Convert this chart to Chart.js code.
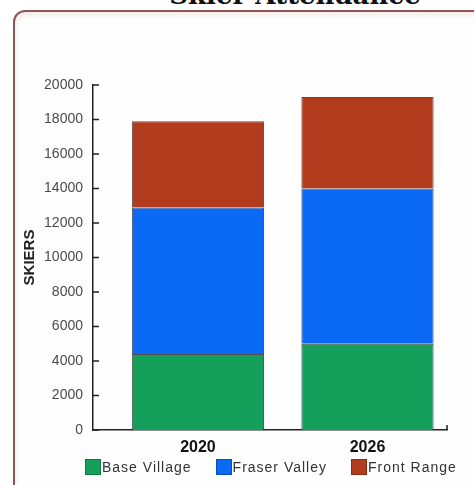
<!DOCTYPE html>
<html>
<head>
<meta charset="utf-8">
<script src="https://cdn.jsdelivr.net/npm/chart.js@4/dist/chart.umd.min.js"></script>
<style>
  html, body { margin: 0; padding: 0; background: #ffffff; overflow: hidden; }
  #wrap { position: relative; width: 474px; height: 485px; overflow: hidden; }
  #frame {
    position: absolute; left: 13px; top: 10px; width: 480px; height: 490px;
    border: 2px solid #8a5656; border-radius: 12px; background: #fdfefd;
    box-shadow: inset 0 3px 5px rgba(210, 140, 140, 0.2);
  }
  #title {
    position: absolute; left: 0; width: 590px; top: -18px; text-align: center;
    font: bold 26px "DejaVu Serif", serif; line-height: 26px; color: #111;
    white-space: nowrap;
  }
  #chart { position: absolute; left: 0; top: 0; }
  #legend {
    position: absolute; left: 85px; top: 459px; display: flex; white-space: nowrap;
    font: 14px "Liberation Sans", Arial, sans-serif; letter-spacing: 1px; color: #333;
  }
  .item { display: flex; flex-shrink: 0; align-items: center; margin-right: 24px; height: 16px; }
  .swatch { width: 16px; height: 16px; margin-right: 1px; box-sizing: border-box; border: 1px solid rgba(0,0,0,0.25); }
</style>
</head>
<body>
<div id="wrap">
  <div id="frame"></div>
  <div id="title">Skier Attendance</div>
  <canvas id="chart" width="474" height="485"></canvas>
  <div id="legend"></div>
</div>
<script>
// Yearly skier counts per area
const years = ['2020', '2026'];
const baseVillage = [4400, 5000];
const fraserValley = [8500, 9000];
const frontRange = [5000, 5300];
const seriesNames = ['Base Village', 'Fraser Valley', 'Front Range'];
const seriesColors = ['#14a05a', '#0a69f5', '#b43c1e'];

// Bars sit on a linear x axis so they can be spaced like the original layout
const toPoints = arr => arr.map((v, i) => ({ x: i, y: v }));

// Short tick marks pointing into the plot, plus the little end tick on the x axis
const innerTicks = {
  id: 'innerTicks',
  afterDraw(chart) {
    const { ctx, chartArea, scales } = chart;
    ctx.save();
    ctx.strokeStyle = '#222';
    ctx.lineWidth = 1.5;
    ctx.beginPath();
    scales.y.ticks.forEach(t => {
      const y = scales.y.getPixelForValue(t.value);
      ctx.moveTo(chartArea.left, y);
      ctx.lineTo(chartArea.left + 6, y);
    });
    ctx.moveTo(chartArea.right, chartArea.bottom);
    ctx.lineTo(chartArea.right, chartArea.bottom - 5);
    ctx.stroke();
    ctx.restore();
  }
};

const datasets = [baseVillage, fraserValley, frontRange].map((vals, i) => ({
  label: seriesNames[i],
  data: toPoints(vals),
  backgroundColor: seriesColors[i],
  borderColor: 'rgba(40, 30, 30, 0.8)',
  borderWidth: 1,
  barPercentage: 0.78,
  categoryPercentage: 1
}));

const ctx = document.getElementById('chart').getContext('2d');
new Chart(ctx, {
  type: 'bar',
  data: { datasets: datasets },
  options: {
    responsive: false,
    animation: false,
    devicePixelRatio: 1,
    layout: { padding: { left: 18, right: 27, top: 85, bottom: 30 } },
    plugins: {
      legend: { display: false },
      tooltip: { enabled: false }
    },
    scales: {
      x: {
        type: 'linear',
        stacked: true,
        offset: false,
        min: -0.619,
        max: 1.469,
        afterBuildTicks: s => { s.ticks = years.map((_, i) => ({ value: i })); },
        afterFit: s => { s.height = 25; },
        grid: { display: false, drawTicks: false },
        border: { display: true, color: '#222', width: 1.5 },
        ticks: {
          padding: 8,
          color: '#111',
          font: { family: 'Liberation Sans', size: 16, weight: 'bold' },
          callback: v => years[v] ?? ''
        }
      },
      y: {
        stacked: true,
        min: 0,
        max: 20000,
        afterFit: s => { s.width = 75; },
        grid: { display: false, drawTicks: false },
        border: { display: true, color: '#222', width: 1.5 },
        ticks: {
          stepSize: 2000,
          padding: 10,
          color: '#4a4a4a',
          font: { family: 'Liberation Sans', size: 14 },
          callback: v => String(v)
        },
        title: {
          display: true,
          text: 'SKIERS',
          color: '#222',
          padding: { top: 3, bottom: 0 },
          font: { family: 'Liberation Sans', size: 15, weight: 'bold' }
        }
      }
    }
  },
  plugins: [innerTicks]
});

// Legend row under the x axis
const legend = document.getElementById('legend');
seriesNames.forEach((name, i) => {
  const item = document.createElement('div');
  item.className = 'item';
  const sw = document.createElement('span');
  sw.className = 'swatch';
  sw.style.background = seriesColors[i];
  const txt = document.createElement('span');
  txt.textContent = name;
  item.appendChild(sw);
  item.appendChild(txt);
  legend.appendChild(item);
});
</script>
</body>
</html>
